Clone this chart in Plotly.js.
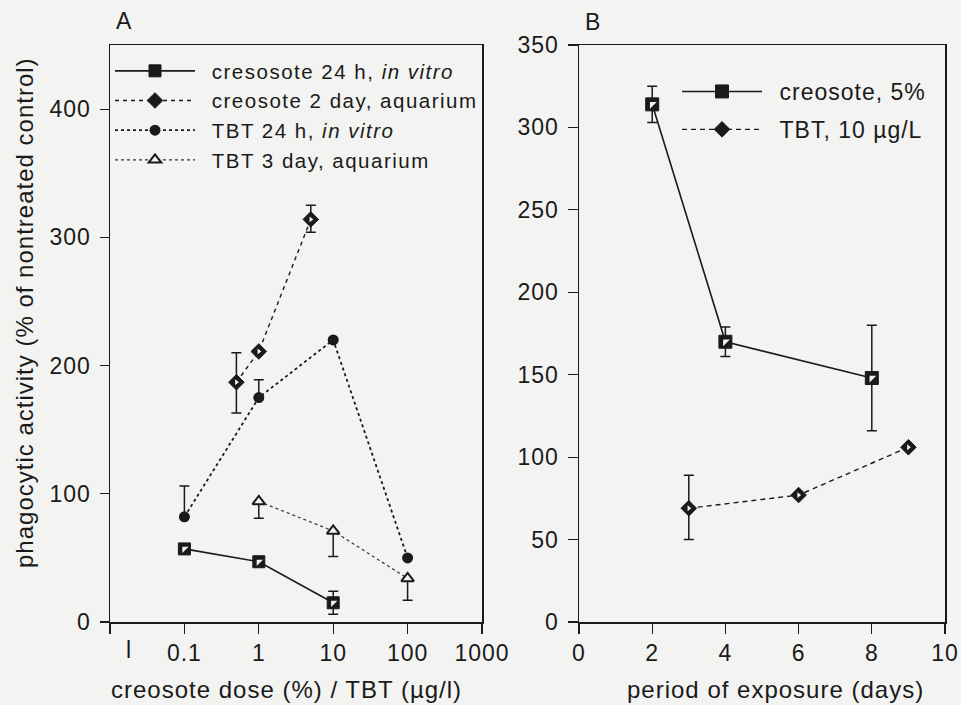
<!DOCTYPE html>
<html>
<head>
<meta charset="utf-8">
<script src="https://cdn.plot.ly/plotly-3.0.1.min.js"></script>
<style>
html,body{margin:0;padding:0;background:#f3f3f1;}
svg text{letter-spacing:1px;}
svg text.legendtext{letter-spacing:1.5px;}
</style>
</head>
<body>
<div id="chart" style="width:961px;height:705px;"></div>
<script>
// ---- Panel A data (dose-response) ----
const creo24_x = [0.1, 1, 10];
const creo24_y = [57, 47, 15];
const creo24_errPlus = [0, 0, 9];
const creo24_errMinus = [0, 0, 9];

const creo2d_x = [0.5, 1, 5];
const creo2d_y = [187, 211, 314];
const creo2d_errPlus = [23, 0, 11];
const creo2d_errMinus = [24, 0, 10];

const tbt24_x = [0.1, 1, 10, 100];
const tbt24_y = [82, 175, 220, 50];
const tbt24_errPlus = [24, 14, 0, 0];
const tbt24_errMinus = [0, 0, 0, 0];

const tbt3d_x = [1, 10, 100];
const tbt3d_y = [94, 71, 34];
const tbt3d_errPlus = [0, 0, 0];
const tbt3d_errMinus = [13, 20, 17];

// ---- Panel B data (time course) ----
const creo5_x = [2, 4, 8];
const creo5_y = [314, 170, 148];
const creo5_err = [11, 9, 32];

const tbt10_x = [3, 6, 9];
const tbt10_y = [69, 77, 106];
const tbt10_errPlus = [20, 0, 0];
const tbt10_errMinus = [19, 0, 0];

// ---- labels ----
const namesA = ['\u2002cresosote 24 h, <i>in vitro</i>', '\u2002creosote 2 day, aquarium', '\u2002TBT 24 h, <i>in vitro</i>', '\u2002TBT 3 day, aquarium'];
const namesB = ['\u2002creosote, 5%', '\u2002TBT, 10 \u00b5g/L'];
const xTickValsA = [0.01, 0.1, 1, 10, 100, 1000];
const xTickTextA = ['', '0.1', '1', '10', '100', '1000'];
const yTickValsA = [0, 100, 200, 300, 400];
const xTitleA = 'creosote dose (%) / TBT (\u00b5g/l)';
const xTitleB = 'period of exposure (days)';
const yTitle = 'phagocytic activity (% of nontreated control)';

const INK = '#1a1a1a';
const BG = '#f3f3f1';
const FONT = 'Liberation Sans, Arial, Helvetica, sans-serif';

function err(plus, minus) {
  return {type: 'data', symmetric: false, array: plus, arrayminus: minus, color: INK, thickness: 1.5, width: 5};
}
function overlay(x, y, symbol, size, xa, ya) {
  return {x: x, y: y, xaxis: xa, yaxis: ya, mode: 'markers', showlegend: false, hoverinfo: 'skip',
    marker: {symbol: symbol, size: size, color: BG, line: {width: 0}}};
}

const traces = [
  // Panel A
  {x: creo24_x, y: creo24_y, name: namesA[0], mode: 'lines+markers', legend: 'legend', legendgroup: 'a1',
   line: {color: INK, width: 1.6, dash: 'solid'},
   marker: {symbol: 'square', size: 12, color: INK, line: {color: INK, width: 1}},
   error_y: err(creo24_errPlus, creo24_errMinus)},
  overlay(creo24_x, creo24_y, 'triangle-nw', 7, 'x', 'y'),
  {x: creo2d_x, y: creo2d_y, name: namesA[1], mode: 'lines+markers', legend: 'legend', legendgroup: 'a2',
   line: {color: INK, width: 1.4, dash: '4px,4px'},
   marker: {symbol: 'diamond', size: 12, color: INK, line: {color: INK, width: 1}},
   error_y: err(creo2d_errPlus, creo2d_errMinus)},
  overlay(creo2d_x, creo2d_y, 'triangle-right', 5, 'x', 'y'),
  {x: tbt24_x, y: tbt24_y, name: namesA[2], mode: 'lines+markers', legend: 'legend', legendgroup: 'a3',
   line: {color: INK, width: 1.8, dash: 'dot'},
   marker: {symbol: 'circle', size: 11, color: INK},
   error_y: err(tbt24_errPlus, tbt24_errMinus)},
  {x: tbt3d_x, y: tbt3d_y, name: namesA[3], mode: 'lines+markers', legend: 'legend', legendgroup: 'a4',
   line: {color: '#333', width: 1.2, dash: '3px,3px'},
   marker: {symbol: 'triangle-up', size: 11, color: BG, line: {color: INK, width: 2}},
   error_y: err(tbt3d_errPlus, tbt3d_errMinus)},
  // Panel B
  {x: creo5_x, y: creo5_y, name: namesB[0], xaxis: 'x2', yaxis: 'y2', mode: 'lines+markers', legend: 'legend2', legendgroup: 'b1',
   line: {color: INK, width: 1.6},
   marker: {symbol: 'square', size: 13, color: INK, line: {color: INK, width: 1}},
   error_y: err(creo5_err, creo5_err)},
  overlay(creo5_x, creo5_y, 'triangle-nw', 7.5, 'x2', 'y2'),
  {x: tbt10_x, y: tbt10_y, name: namesB[1], xaxis: 'x2', yaxis: 'y2', mode: 'lines+markers', legend: 'legend2', legendgroup: 'b2',
   line: {color: INK, width: 1.4, dash: '5px,4px'},
   marker: {symbol: 'diamond', size: 12, color: INK, line: {color: INK, width: 1}},
   error_y: err(tbt10_errPlus, tbt10_errMinus)},
  overlay(tbt10_x, tbt10_y, 'triangle-right', 5, 'x2', 'y2')
];

const axisCommon = {
  showline: true, mirror: true, linecolor: INK, linewidth: 1.5,
  ticks: 'outside', tickcolor: INK, tickwidth: 1.2,
  showgrid: false, zeroline: false,
  tickfont: {family: FONT, size: 23, color: INK},
  automargin: false
};
const titleFont = {family: FONT, size: 24, color: INK};

const layout = {
  width: 961, height: 705,
  margin: {l: 0, r: 0, t: 0, b: 0},
  paper_bgcolor: BG, plot_bgcolor: BG,
  font: {family: FONT, color: INK},
  showlegend: true,
  xaxis: Object.assign({}, axisCommon, {
    type: 'log', range: [-2, 3], domain: [110/961, 482/961], anchor: 'y',
    tickmode: 'array', tickvals: xTickValsA, ticktext: xTickTextA, ticklen: 10
  }),
  yaxis: Object.assign({}, axisCommon, {
    range: [0, 450], domain: [1 - 622/705, 1 - 45/705], anchor: 'x',
    tickmode: 'array', tickvals: yTickValsA, ticklen: 9, ticklabelstandoff: 4
  }),
  xaxis2: Object.assign({}, axisCommon, {
    range: [0, 10], dtick: 2, tick0: 0, domain: [579/961, 945/961], anchor: 'y2', ticklen: 10
  }),
  yaxis2: Object.assign({}, axisCommon, {
    range: [0, 350], dtick: 50, tick0: 0, domain: [1 - 622/705, 1 - 45/705], anchor: 'x2', ticklen: 10,
    ticklabelstandoff: 4
  }),
  legend: {
    x: 110/961, y: 1 - 51/705, xanchor: 'left', yanchor: 'top',
    bgcolor: 'rgba(0,0,0,0)', borderwidth: 0,
    font: {family: FONT, size: 20.5, color: INK},
    traceorder: 'grouped', tracegroupgap: 0, itemwidth: 80
  },
  legend2: {
    x: 677/961, y: 1 - 70/705, xanchor: 'left', yanchor: 'top',
    bgcolor: 'rgba(0,0,0,0)', borderwidth: 0,
    font: {family: FONT, size: 23, color: INK},
    traceorder: 'grouped', tracegroupgap: 5, itemwidth: 80
  },
  annotations: [
    {text: 'A', xref: 'paper', yref: 'paper', x: 124/961, y: 1 - 21/705, xanchor: 'center', yanchor: 'middle',
     showarrow: false, font: {family: FONT, size: 23, color: INK}},
    {text: 'B', xref: 'paper', yref: 'paper', x: 593/961, y: 1 - 22/705, xanchor: 'center', yanchor: 'middle',
     showarrow: false, font: {family: FONT, size: 23, color: INK}},
    {text: 'l', xref: 'x', yref: 'paper', x: -1.75, y: 1 - 650/705, xanchor: 'center', yanchor: 'middle',
     showarrow: false, font: {family: FONT, size: 23, color: INK}},
    {text: xTitleA, xref: 'paper', yref: 'paper', x: 286/961, y: 1 - 689/705, xanchor: 'center', yanchor: 'middle',
     showarrow: false, font: titleFont},
    {text: xTitleB, xref: 'paper', yref: 'paper', x: 775/961, y: 1 - 689/705, xanchor: 'center', yanchor: 'middle',
     showarrow: false, font: titleFont},
    {text: yTitle, xref: 'paper', yref: 'paper', x: 24/961, y: 1 - 313/705, xanchor: 'center', yanchor: 'middle',
     textangle: -90, showarrow: false, font: titleFont}
  ]
};

Plotly.newPlot('chart', traces, layout, {displayModeBar: false, staticPlot: true});
</script>
</body>
</html>
